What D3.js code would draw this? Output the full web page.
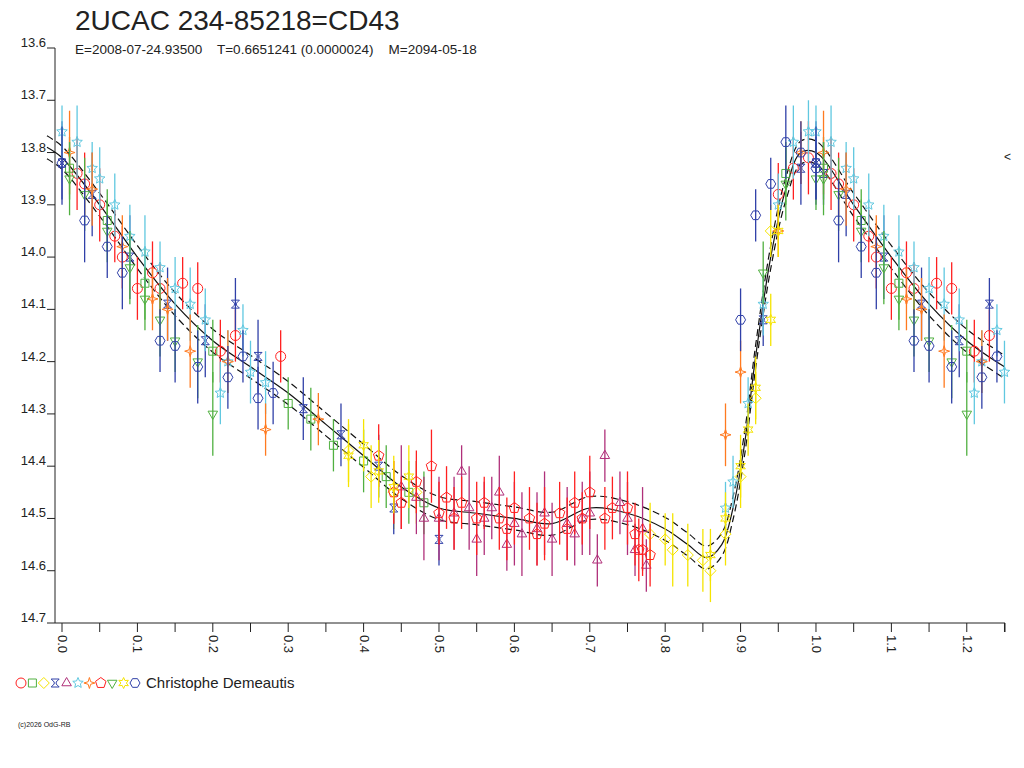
<!DOCTYPE html>
<html lang="en">
<head>
<meta charset="UTF-8">
<title>2UCAC 234-85218=CD43</title>
<script src="https://d3js.org/d3.v7.min.js"></script>
<style>
  body { margin: 0; background: #fff; }
  text { font-family: "Liberation Sans", Arial, sans-serif; fill: #222; white-space: pre; }
</style>
</head>
<body>
<svg id="chart" width="1024" height="768"></svg>
<script>
// observations per series: [phase, mag, error]
const redCircles = [[0.02,13.84,0.07],[0.03,13.86,0.06],[0.05,13.9,0.07],[0.07,13.96,0.05],[0.08,14.0,0.06],[0.1,14.06,0.06],[0.12,14.03,0.06],[0.13,14.06,0.05],[0.16,14.05,0.05],[0.18,14.06,0.05],[0.21,14.18,0.06],[0.23,14.15,0.05],[0.29,14.19,0.05],[0.95,13.88,0.06],[0.97,13.83,0.06],[0.99,13.81,0.07]];
const greenSquares = [[0.01,13.83,0.06],[0.06,13.93,0.06],[0.11,14.05,0.07],[0.2,14.18,0.06],[0.3,14.28,0.05],[0.33,14.31,0.06],[0.36,14.36,0.05],[0.4,14.39,0.06],[0.43,14.42,0.06],[0.46,14.45,0.06],[0.48,14.47,0.06],[0.96,13.84,0.06]];
const yellowDiamonds = [[0.38,14.37,0.06],[0.41,14.42,0.06],[0.44,14.45,0.07],[0.47,14.45,0.06],[0.78,14.53,0.06],[0.8,14.54,0.05],[0.81,14.56,0.07],[0.83,14.57,0.06],[0.85,14.58,0.06],[0.86,14.6,0.06],[0.88,14.53,0.06],[0.9,14.42,0.06],[0.92,14.27,0.05],[0.94,13.95,0.05]];
const blueHourglass = [[0.0,13.82,0.08],[0.04,13.88,0.08],[0.09,14.0,0.08],[0.14,14.09,0.07],[0.19,14.16,0.07],[0.23,14.09,0.05],[0.26,14.19,0.07],[0.32,14.29,0.06],[0.37,14.34,0.06],[0.42,14.4,0.06],[0.44,14.48,0.05],[0.5,14.54,0.05],[0.93,14.12,0.05],[0.98,13.83,0.07],[1.01,13.84,0.06]];
const purpleTriangles = [[0.45,14.44,0.08],[0.47,14.46,0.07],[0.48,14.5,0.08],[0.5,14.5,0.08],[0.52,14.49,0.07],[0.54,14.48,0.08],[0.55,14.54,0.07],[0.56,14.5,0.07],[0.57,14.48,0.06],[0.58,14.45,0.07],[0.6,14.51,0.08],[0.61,14.53,0.08],[0.63,14.52,0.07],[0.64,14.49,0.08],[0.65,14.54,0.07],[0.67,14.51,0.07],[0.68,14.53,0.06],[0.69,14.5,0.07],[0.7,14.49,0.08],[0.71,14.58,0.05],[0.72,14.38,0.05],[0.74,14.47,0.06],[0.75,14.5,0.07],[0.76,14.56,0.05],[0.77,14.52,0.08],[0.775,14.59,0.05],[0.59,14.55,0.05],[0.53,14.41,0.05]];
const cyanStars = [[0.0,13.76,0.05],[0.02,13.78,0.07],[0.04,13.83,0.05],[0.05,13.85,0.06],[0.07,13.9,0.06],[0.09,13.96,0.06],[0.11,13.99,0.07],[0.13,14.02,0.05],[0.15,14.06,0.06],[0.17,14.09,0.07],[0.19,14.12,0.06],[0.21,14.26,0.06],[0.22,14.2,0.06],[0.24,14.14,0.05],[0.25,14.22,0.06],[0.27,14.24,0.06],[0.88,14.48,0.05],[0.89,14.43,0.05],[0.91,14.28,0.05],[0.93,14.09,0.06],[0.95,13.9,0.06],[0.97,13.78,0.07],[0.99,13.76,0.06]];
const orangeStars = [[0.01,13.8,0.08],[0.04,13.87,0.07],[0.08,13.98,0.06],[0.12,14.08,0.06],[0.14,14.1,0.06],[0.17,14.18,0.07],[0.22,14.2,0.06],[0.27,14.33,0.05],[0.34,14.31,0.05],[0.88,14.34,0.06],[0.9,14.22,0.06],[0.95,13.95,0.05],[0.98,13.8,0.06]];
const redPentagons = [[0.42,14.38,0.06],[0.44,14.45,0.06],[0.45,14.47,0.05],[0.47,14.43,0.06],[0.49,14.4,0.07],[0.5,14.49,0.06],[0.51,14.46,0.06],[0.52,14.5,0.06],[0.53,14.47,0.05],[0.55,14.5,0.07],[0.56,14.47,0.05],[0.58,14.5,0.06],[0.59,14.52,0.06],[0.6,14.48,0.07],[0.62,14.5,0.06],[0.63,14.53,0.06],[0.64,14.51,0.07],[0.66,14.49,0.06],[0.67,14.52,0.06],[0.68,14.47,0.06],[0.69,14.5,0.05],[0.7,14.45,0.07],[0.72,14.5,0.06],[0.73,14.48,0.06],[0.75,14.48,0.07],[0.76,14.53,0.06],[0.765,14.56,0.06],[0.77,14.56,0.05],[0.78,14.57,0.06]];
const greenDownTri = [[0.01,13.85,0.07],[0.03,13.88,0.07],[0.06,13.95,0.06],[0.09,14.02,0.07],[0.11,14.08,0.06],[0.13,14.12,0.07],[0.15,14.16,0.06],[0.18,14.2,0.07],[0.2,14.3,0.08],[0.93,14.03,0.06],[0.96,13.86,0.07],[1.0,13.85,0.06]];
const yellowStars = [[0.38,14.38,0.06],[0.4,14.36,0.05],[0.42,14.41,0.06],[0.44,14.44,0.05],[0.46,14.42,0.06],[0.86,14.57,0.05],[0.88,14.5,0.05],[0.9,14.4,0.06],[0.91,14.33,0.05],[0.92,14.25,0.06],[0.94,14.12,0.05],[0.95,13.95,0.05]];
const bluePentagons = [[0.0,13.82,0.07],[0.03,13.93,0.08],[0.06,13.98,0.06],[0.08,14.03,0.07],[0.13,14.16,0.06],[0.15,14.17,0.07],[0.18,14.21,0.07],[0.22,14.23,0.06],[0.24,14.19,0.05],[0.26,14.27,0.06],[0.28,14.26,0.06],[0.9,14.12,0.06],[0.92,13.92,0.05],[0.94,13.86,0.05],[0.96,13.78,0.07],[0.98,13.8,0.06],[1.0,13.83,0.06]];

// fitted curve knots [phase, mag]
const fitPhase = [-0.02,0.0,0.05,0.1,0.15,0.2,0.25,0.3,0.35,0.4,0.45,0.5,0.55,0.6,0.65,0.7,0.75,0.8,0.83,0.855,0.875,0.89,0.905,0.92,0.94,0.96,0.98,1.0];
const fitMag   = [13.79,13.81,13.9,14.0,14.09,14.16,14.21,14.26,14.32,14.38,14.44,14.48,14.49,14.5,14.51,14.48,14.49,14.52,14.55,14.575,14.55,14.48,14.36,14.19,14.0,13.87,13.8,13.8];

const yTicks = [13.6,13.7,13.8,13.9,14.0,14.1,14.2,14.3,14.4,14.5,14.6,14.7];
const xLabelTicks = [0.0,0.1,0.2,0.3,0.4,0.5,0.6,0.7,0.8,0.9,1.0,1.1,1.2];

const svg = d3.select("#chart");
const x = d3.scaleLinear().domain([-0.0093, 1.2507]).range([55, 1005]);
const y = d3.scaleLinear().domain([13.6, 14.7]).range([48, 623]);

// symbol paths
function poly(n, r, rot) {
  const pts = d3.range(n).map(i => { const a = rot + i * 2 * Math.PI / n; return [r * Math.cos(a), r * Math.sin(a)]; });
  return "M" + pts.map(p => p.join(",")).join("L") + "Z";
}
function star(n, r, ri, rot) {
  const pts = d3.range(2 * n).map(i => { const a = rot + i * Math.PI / n; const rr = i % 2 ? ri : r; return [rr * Math.cos(a), rr * Math.sin(a)]; });
  return "M" + pts.map(p => p.join(",")).join("L") + "Z";
}
const up = -Math.PI / 2;
const series = [
  { data: redCircles, color: "#ff2020", path: poly(16, 5, 0) },
  { data: greenSquares, color: "#50b040", path: "M-4,-4H4V4H-4Z" },
  { data: yellowDiamonds, color: "#f5e400", path: poly(4, 5.5, 0) },
  { data: blueHourglass, color: "#3040a8", path: "M-4,-4H4L1,-1V1L4,4H-4L-1,1V-1Z" },
  { data: purpleTriangles, color: "#b0307a", path: poly(3, 5.5, up) },
  { data: cyanStars, color: "#60c8e0", path: star(5, 5.5, 2.5, up) },
  { data: orangeStars, color: "#ff7a20", path: star(4, 5.5, 1.8, up) },
  { data: redPentagons, color: "#ff2020", path: poly(5, 5.5, up) },
  { data: greenDownTri, color: "#50b040", path: poly(3, 5.5, Math.PI / 2) },
  { data: yellowStars, color: "#f5e400", path: star(6, 5.5, 2.8, up) },
  { data: bluePentagons, color: "#3040a8", path: poly(6, 5, 0) }
];

// repeat early phases after 1.0
function expand(d) {
  const out = d.slice();
  d.forEach(p => { if (p[0] + 1 <= 1.255) out.push([p[0] + 1, p[1], p[2]]); });
  return out;
}

// axes
svg.append("line").attr("x1", 55).attr("x2", 55).attr("y1", y(13.6)).attr("y2", y(14.7)).attr("stroke", "#222");
svg.append("line").attr("x1", 55).attr("x2", 1005).attr("y1", y(14.7)).attr("y2", y(14.7)).attr("stroke", "#222");
yTicks.forEach(t => {
  svg.append("line").attr("x1", 47).attr("x2", 55).attr("y1", y(t)).attr("y2", y(t)).attr("stroke", "#222");
  svg.append("text").attr("x", 46).attr("y", y(t) - 1).attr("text-anchor", "end").attr("font-size", 13).text(t.toFixed(1));
});
d3.range(0, 1.26, 0.05).forEach(t => {
  svg.append("line").attr("x1", x(t)).attr("x2", x(t)).attr("y1", y(14.7)).attr("y2", y(14.7) + 9).attr("stroke", "#222");
});
xLabelTicks.forEach(t => {
  svg.append("text").attr("transform", `translate(${x(t) - 4},635) rotate(90)`)
    .attr("font-size", 13).text(t.toFixed(1));
});
svg.append("line").attr("x1", 1005).attr("x2", 1005).attr("y1", y(14.7)).attr("y2", y(14.7) + 9).attr("stroke", "#222");

// fit curve
const fit = fitPhase.map((p, i) => [p, fitMag[i]]);
fitPhase.forEach((p, i) => { if (p > 0 && p + 1 <= 1.27) fit.push([p + 1, fitMag[i]]); });
const line = off => d3.line().curve(d3.curveCatmullRom).x(d => x(d[0])).y(d => y(d[1] + off));
svg.append("path").datum(fit).attr("d", line(0)).attr("fill", "none").attr("stroke", "#111").attr("stroke-width", 1.2);
[-0.022, 0.022].forEach(o => svg.append("path").datum(fit).attr("d", line(o)).attr("fill", "none")
  .attr("stroke", "#111").attr("stroke-width", 1.2).attr("stroke-dasharray", "7,4"));

// observations
series.forEach(s => {
  const g = svg.append("g");
  const pts = expand(s.data);
  g.selectAll("line").data(pts).enter().append("line")
    .attr("x1", d => x(d[0])).attr("x2", d => x(d[0]))
    .attr("y1", d => y(d[1] - d[2])).attr("y2", d => y(d[1] + d[2]))
    .attr("stroke", s.color).attr("stroke-width", 1.3);
  g.selectAll("path").data(pts).enter().append("path")
    .attr("d", s.path).attr("transform", d => `translate(${x(d[0])},${y(d[1])})`)
    .attr("fill", "none").attr("stroke", s.color).attr("stroke-width", 1);
});

// titles
svg.append("text").attr("x", 75).attr("y", 30).attr("font-size", 28).text("2UCAC 234-85218=CD43");
svg.append("text").attr("x", 75).attr("y", 54).attr("font-size", 13.5)
  .text("E=2008-07-24.93500    T=0.6651241 (0.0000024)    M=2094-05-18");
svg.append("text").attr("x", 1004).attr("y", 161).attr("font-size", 12).text("<");

// legend
series.forEach((s, i) => {
  svg.append("path").attr("d", s.path).attr("transform", `translate(${21 + i * 11.4},683)`)
    .attr("fill", "none").attr("stroke", s.color);
});
svg.append("text").attr("x", 146).attr("y", 688).attr("font-size", 15).text("Christophe Demeautis");
svg.append("text").attr("x", 18).attr("y", 727).attr("font-size", 7).text("(c)2026 OdG-RB");
</script>
</body>
</html>
